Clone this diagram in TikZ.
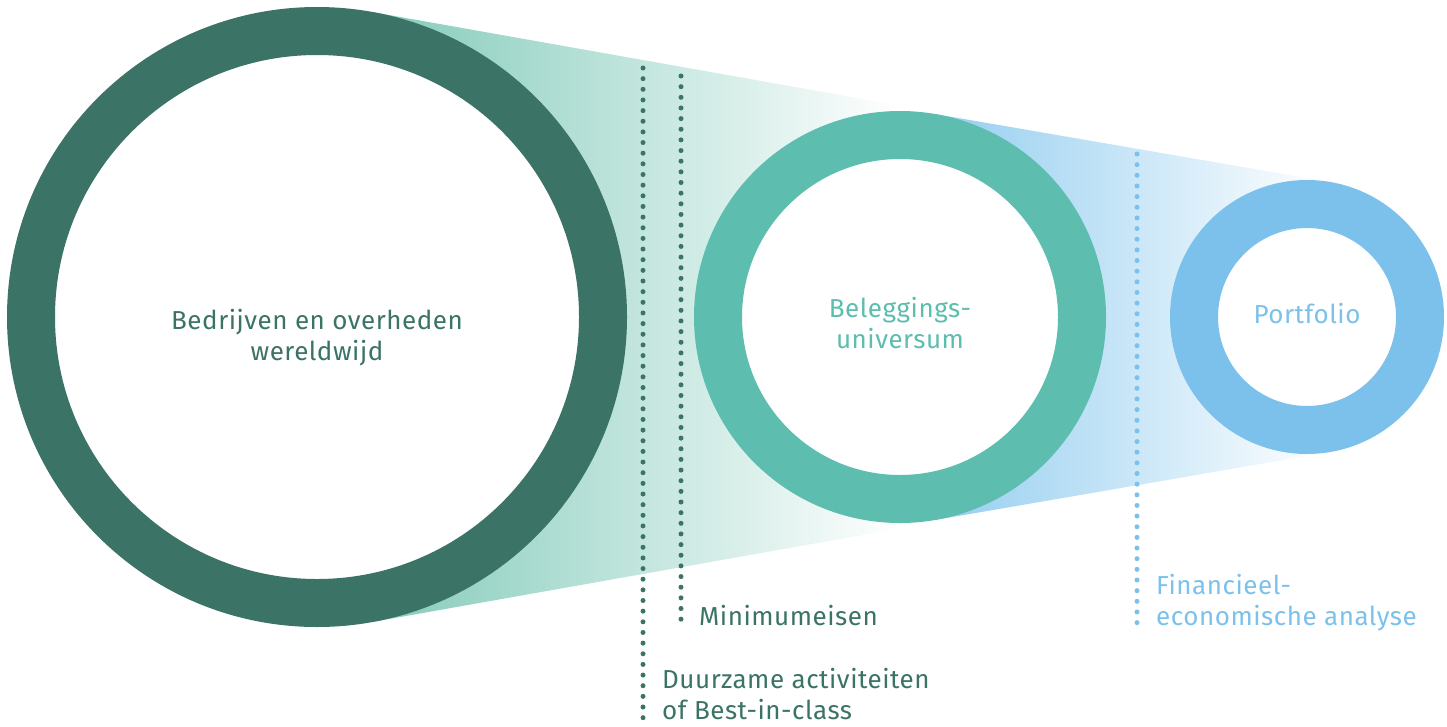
\documentclass[tikz,border=0pt]{standalone}
\usepackage{fontspec}
\setmainfont{Fira Sans}[LetterSpace=2]
\usepackage{tikz}

\definecolor{deepgreen}{HTML}{3B7366}
\definecolor{seagreen}{HTML}{5DBDAF}
\definecolor{skyblue}{HTML}{7BC1EB}
\definecolor{mintfade}{HTML}{84CBBB}
\definecolor{bluefade}{HTML}{95CEF0}

\tikzset{
	ring/.style={circle, draw=#1, line width=48pt, fill=white, inner sep=0pt},
	dotline/.style={draw=#1, line width=5pt, line cap=round, dash pattern=on 0pt off 10.65pt},
	lbl/.style={text=#1, font=\fontsize{26}{31}\selectfont, inner sep=0pt},
}

\begin{document}
\begin{tikzpicture}[x=1pt, y=-1pt]
		\useasboundingbox (0,0) rectangle (1447,726);
		\shade[left color=mintfade, right color=white] (372,12) -- (900,105.6) -- (900,528.4) -- (372,622) -- cycle;
		\shade[left color=bluefade, right color=white] (935,114) -- (1330,182) -- (1330,452) -- (935,520) -- cycle;
		\node[ring=deepgreen, minimum size=572pt] (world) at (317,317) {};
		\node[ring=seagreen, minimum size=364pt] (universe) at (900,317) {};
		\node[ring=skyblue, minimum size=226pt] (portfolio) at (1307,317) {};
		\node[lbl=deepgreen, align=center, anchor=base] (worldtext) at (317,360) {Bedrijven en overheden\\wereldwijd};
		\node[lbl=seagreen, align=center, anchor=base] (universetext) at (900,348) {Beleggings-\\universum};
		\node[lbl=skyblue, anchor=base] (portfoliotext) at (1307,323) {Portfolio};
		\coordinate (best top) at (643,68);
		\coordinate (best end) at (643,718);
		\coordinate (min top) at (681,76);
		\coordinate (min end) at (681,624);
		\coordinate (fin top) at (1137,154);
		\coordinate (fin end) at (1137,624);
		\draw[dotline=deepgreen] (best top) -- (best end);
		\draw[dotline=deepgreen] (min top) -- (min end);
		\draw[dotline=skyblue] (fin top) -- (fin end);
		\node[lbl=deepgreen, anchor=base west] (minimum) at (699,625) {Minimumeisen};
		\node[lbl=deepgreen, align=left, anchor=base west] (sustainable) at (662,719) {Duurzame activiteiten\\of Best-in-class};
		\node[lbl=skyblue, align=left, anchor=base west] (finance) at (1156,625) {Financieel-\\economische analyse};
	\end{tikzpicture}
\end{document}
